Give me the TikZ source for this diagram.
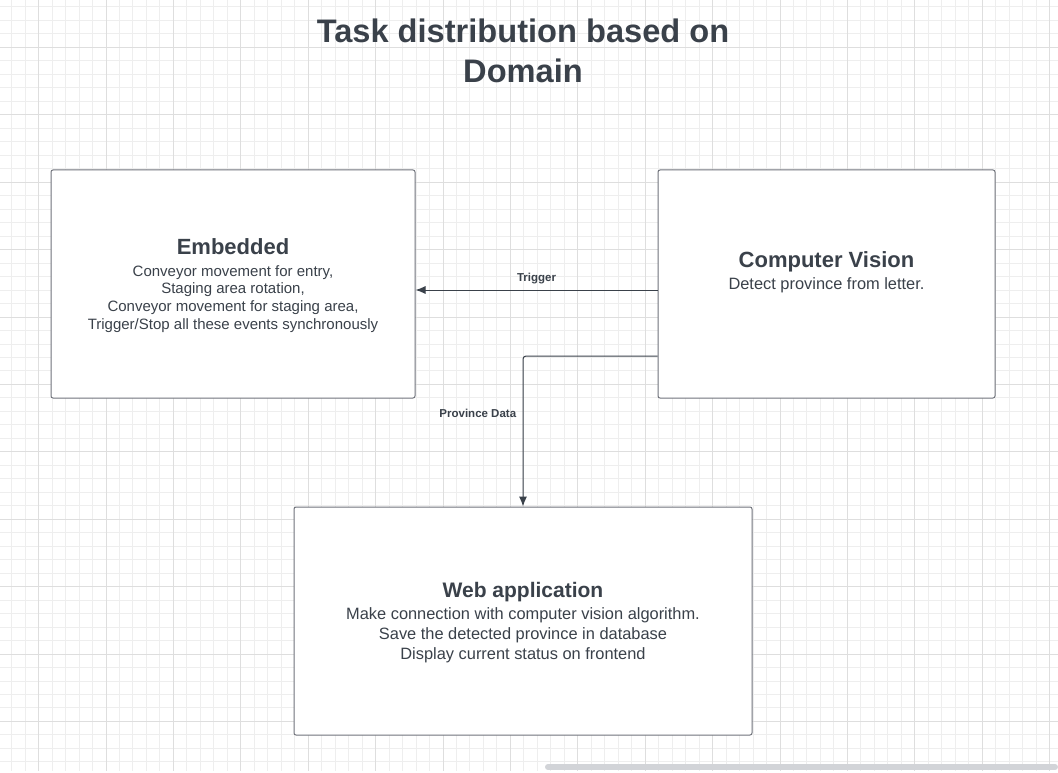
\documentclass[tikz,border=0pt]{standalone}
\usepackage{fontspec}
\setmainfont{Liberation Sans}
\usetikzlibrary{arrows.meta,positioning}
\definecolor{ink}{HTML}{3A414A}
\definecolor{edge}{HTML}{70737B}
\definecolor{gridmin}{HTML}{EEEEEE}
\definecolor{gridmaj}{HTML}{DEDEDE}
\definecolor{bar}{HTML}{D2D4D8}
\tikzset{
  box/.style={draw=edge, line width=1pt, rounded corners=2pt, fill=white, inner sep=0pt},
  body/.style={text=ink, align=center, font=\fontsize{15}{17.7}\selectfont},
  tag/.style={text=ink, font=\fontsize{11.5}{13}\selectfont\bfseries},
  conn/.style={draw=ink, line width=1pt, -{Latex[length=10pt,width=8pt]}},
}
\newcommand{\head}[1]{{\fontsize{22}{24}\selectfont\bfseries #1}}
\begin{document}
\begin{tikzpicture}[x=1pt,y=-1pt]
  \useasboundingbox (0,0) rectangle (1058,773);
  \fill[white] (0,0) rectangle (1058,773);
  \foreach \i in {0,...,78} \draw[gridmin, line width=0.8pt] ({11.54+13.48*\i},0) -- ++(0,771);
  \foreach \j in {0,...,57} \draw[gridmin, line width=0.8pt] (0,{6.9+13.48*\j}) -- ++(1058,0);
  \foreach \i in {0,...,15} \draw[gridmaj, line width=0.8pt] ({38.5+67.4*\i},0) -- ++(0,771);
  \foreach \j in {0,...,11} \draw[gridmaj, line width=0.8pt] (0,{47.3+67.4*\j}) -- ++(1058,0);
  \draw[bar, line width=6pt, line cap=round] (548,767) -- (1055,767);

  \node (title) at (523,51) [text=ink, align=center, font=\fontsize{32.6}{40}\selectfont\bfseries] {Task distribution based on\\Domain};

  \node (emb) at (233,284) [box, minimum width=364pt, minimum height=228pt] {};
  \node (cv) at (826.5,284) [box, minimum width=337pt, minimum height=228pt] {};
  \node (web) at (523,621) [box, minimum width=458pt, minimum height=228pt] {};

  \node (embtext) at ([yshift=-1.5pt]emb.center) [body] {\head{Embedded}\\[4pt]
    Conveyor movement for entry,\\Staging area rotation,\\Conveyor movement for staging area,\\Trigger/Stop all these events synchronously};
  \node (cvtext) at ([yshift=12pt]cv.center) [body, font=\fontsize{16.4}{20}\selectfont] {\head{Computer Vision}\\[2pt]
    Detect province from letter.};
  \node (webtext) at ([yshift=-2pt]web.center) [body, font=\fontsize{16.4}{20}\selectfont] {{\fontsize{21}{23}\selectfont\bfseries Web application}\\[2pt]
    Make connection with computer vision algorithm.\\Save the detected province in database\\Display current status on frontend};

  \draw[conn] ([yshift=-6pt]cv.west) -- node[tag, above=2pt] (trig) {Trigger} ([yshift=-6pt]emb.east);
  \draw[conn, rounded corners=3pt] ([yshift=-72pt]cv.west) -| node[tag, pos=0.69, left=3pt] (prov) {Province Data} (web.north);
\end{tikzpicture}
\end{document}
